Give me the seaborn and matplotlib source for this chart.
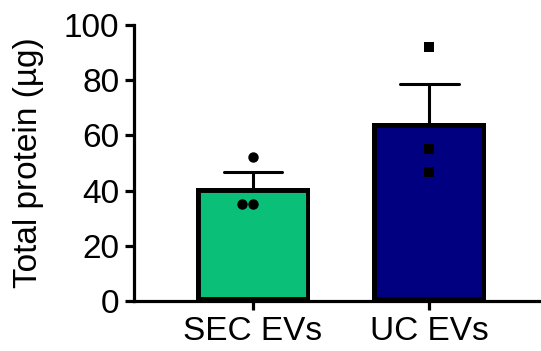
import numpy as np
import pandas as pd
import matplotlib
matplotlib.use("Agg")
import matplotlib.pyplot as plt
import seaborn as sns

# Individual replicate measurements (total protein, µg)
categories = ["SEC EVs", "UC EVs"]
sec_values = [52.3, 35.0, 35.2]
uc_values = [92.1, 55.1, 46.6]
bar_colors = ["#0ABF77", "#000080"]
y_ticks = [0, 20, 40, 60, 80, 100]

df = pd.DataFrame({
    "group": [categories[0]] * len(sec_values) + [categories[1]] * len(uc_values),
    "protein": sec_values + uc_values,
})

sns.set_theme(style="ticks")
plt.rcParams["font.family"] = ["Liberation Sans", "DejaVu Sans"]

fig = plt.figure(figsize=(5.41, 3.51), dpi=100)
ax = fig.add_axes([0.2477, 0.1425, 0.7523, 0.7863])

sns.barplot(
    data=df, x="group", y="protein", order=categories, hue="group",
    palette=bar_colors, saturation=1, errorbar="se", capsize=0.33, width=0.645,
    edgecolor="black", linewidth=6.4,
    err_kws={"color": "black", "linewidth": 2.2}, ax=ax, legend=False,
)
# Keep error whiskers behind the bars so only the upper half shows
for ln in ax.lines:
    ln.set_zorder(0.5)
# Draw bar outlines on the inside of each bar
for p in ax.patches:
    p.set_zorder(1)
    p.set_clip_path(p)

sns.swarmplot(data=df[df.group == categories[0]], x="group", y="protein",
              order=categories, color="black", marker="o", size=7.5, ax=ax, zorder=3)
sns.swarmplot(data=df[df.group == categories[1]], x="group", y="protein",
              order=categories, color="black", marker="s", size=7.5, ax=ax, zorder=3)

ax.set_xlim(-0.672, 1.632)
ax.set_ylim(0, 100)
ax.set_yticks(y_ticks)
ax.set_xlabel("")
ax.set_ylabel("Total protein (µg)", fontsize=24, labelpad=14, color="black")
ax.tick_params(axis="both", labelsize=24, width=2.3, length=6.5, color="black",
               labelcolor="black", pad=4)
for side in ("top", "right"):
    ax.spines[side].set_visible(False)
for side in ("left", "bottom"):
    ax.spines[side].set_linewidth(2.3)
    ax.spines[side].set_color("black")
    ax.spines[side].set_zorder(4)

fig.savefig("out.png", dpi=100)
